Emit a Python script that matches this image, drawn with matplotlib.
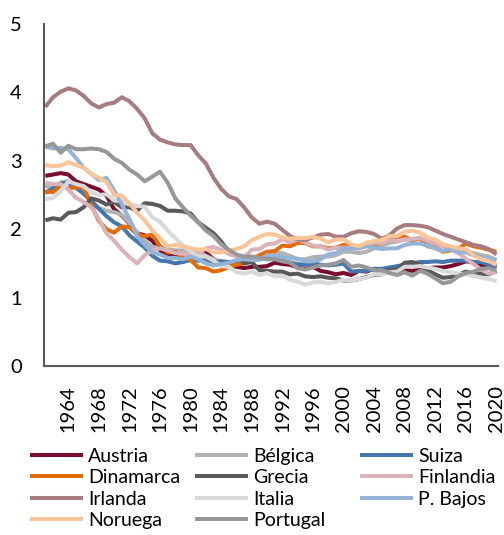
import matplotlib
matplotlib.use('Agg')
import matplotlib.pyplot as plt

plt.rcParams['font.family'] = ['Lato', 'DejaVu Sans']

# años 1961-2020
years = list(range(1961, 2021))

austria = [2.78, 2.80, 2.82, 2.80, 2.70, 2.66, 2.62, 2.58, 2.49, 2.29, 2.20, 2.08, 1.94, 1.91,
           1.83, 1.69, 1.63, 1.60, 1.60, 1.65, 1.67, 1.66, 1.56, 1.52, 1.47, 1.45, 1.43, 1.45,
           1.45, 1.46, 1.51, 1.49, 1.48, 1.44, 1.42, 1.45, 1.39, 1.37, 1.34, 1.36, 1.33, 1.39,
           1.38, 1.42, 1.41, 1.41, 1.38, 1.41, 1.39, 1.44, 1.43, 1.44, 1.44, 1.46, 1.49, 1.53,
           1.52, 1.47, 1.46, 1.44]
belgica = [2.64, 2.59, 2.68, 2.71, 2.61, 2.52, 2.41, 2.31, 2.27, 2.25, 2.21, 2.09, 1.95, 1.83,
           1.74, 1.73, 1.71, 1.69, 1.69, 1.68, 1.67, 1.61, 1.56, 1.53, 1.51, 1.54, 1.54, 1.57,
           1.58, 1.62, 1.66, 1.65, 1.61, 1.56, 1.56, 1.59, 1.60, 1.60, 1.62, 1.67, 1.67, 1.65,
           1.67, 1.72, 1.76, 1.80, 1.82, 1.85, 1.84, 1.86, 1.81, 1.79, 1.75, 1.74, 1.70, 1.68,
           1.65, 1.62, 1.60, 1.55]
suiza = [2.53, 2.60, 2.67, 2.68, 2.61, 2.52, 2.41, 2.30, 2.19, 2.10, 2.04, 1.91, 1.82, 1.73,
         1.61, 1.54, 1.53, 1.50, 1.52, 1.55, 1.54, 1.56, 1.51, 1.53, 1.52, 1.53, 1.52, 1.57,
         1.56, 1.59, 1.60, 1.58, 1.51, 1.49, 1.48, 1.50, 1.48, 1.47, 1.48, 1.50, 1.38, 1.39,
         1.39, 1.42, 1.42, 1.44, 1.46, 1.48, 1.50, 1.52, 1.52, 1.53, 1.52, 1.54, 1.54, 1.54,
         1.52, 1.52, 1.48, 1.46]
dinamarca = [2.55, 2.54, 2.64, 2.60, 2.61, 2.62, 2.35, 2.12, 2.00, 1.95, 2.04, 2.03, 1.92, 1.90,
             1.92, 1.75, 1.66, 1.67, 1.60, 1.55, 1.44, 1.43, 1.38, 1.40, 1.45, 1.48, 1.50, 1.56,
             1.62, 1.67, 1.68, 1.76, 1.75, 1.80, 1.80, 1.75, 1.75, 1.72, 1.73, 1.77, 1.74, 1.72,
             1.76, 1.78, 1.80, 1.85, 1.84, 1.89, 1.84, 1.87, 1.75, 1.73, 1.67, 1.69, 1.71, 1.79,
             1.75, 1.73, 1.70, 1.67]
grecia = [2.13, 2.16, 2.14, 2.24, 2.25, 2.32, 2.45, 2.42, 2.36, 2.40, 2.32, 2.32, 2.27, 2.38,
          2.37, 2.34, 2.27, 2.27, 2.26, 2.23, 2.10, 2.02, 1.94, 1.82, 1.67, 1.61, 1.50, 1.52,
          1.40, 1.39, 1.38, 1.38, 1.34, 1.35, 1.31, 1.30, 1.31, 1.29, 1.28, 1.25, 1.25, 1.27,
          1.30, 1.33, 1.34, 1.40, 1.41, 1.51, 1.52, 1.48, 1.40, 1.34, 1.29, 1.30, 1.33, 1.38,
          1.35, 1.35, 1.34, 1.39]
finlandia = [2.68, 2.66, 2.66, 2.58, 2.46, 2.40, 2.32, 2.15, 1.94, 1.83, 1.70, 1.59, 1.50, 1.62,
             1.69, 1.72, 1.69, 1.65, 1.64, 1.63, 1.65, 1.72, 1.74, 1.70, 1.64, 1.60, 1.59, 1.70,
             1.71, 1.78, 1.79, 1.85, 1.81, 1.85, 1.81, 1.76, 1.75, 1.70, 1.73, 1.73, 1.73, 1.72,
             1.76, 1.80, 1.80, 1.84, 1.83, 1.85, 1.86, 1.87, 1.83, 1.80, 1.75, 1.71, 1.65, 1.57,
             1.49, 1.41, 1.35, 1.37]
irlanda = [3.79, 3.93, 4.01, 4.06, 4.03, 3.95, 3.84, 3.78, 3.83, 3.85, 3.93, 3.87, 3.76, 3.62,
           3.40, 3.31, 3.27, 3.24, 3.23, 3.23, 3.08, 2.96, 2.75, 2.59, 2.48, 2.44, 2.32, 2.17,
           2.08, 2.11, 2.08, 1.99, 1.90, 1.85, 1.84, 1.88, 1.92, 1.93, 1.89, 1.89, 1.94, 1.97,
           1.96, 1.93, 1.86, 1.91, 2.01, 2.06, 2.06, 2.05, 2.03, 1.98, 1.93, 1.89, 1.85, 1.81,
           1.77, 1.75, 1.71, 1.63]
italia = [2.44, 2.46, 2.55, 2.70, 2.66, 2.63, 2.54, 2.50, 2.51, 2.42, 2.41, 2.36, 2.34, 2.33,
          2.17, 2.11, 1.98, 1.87, 1.76, 1.68, 1.60, 1.60, 1.54, 1.46, 1.45, 1.37, 1.35, 1.38,
          1.33, 1.36, 1.31, 1.32, 1.26, 1.23, 1.19, 1.22, 1.23, 1.21, 1.23, 1.26, 1.25, 1.27,
          1.29, 1.34, 1.34, 1.37, 1.38, 1.45, 1.45, 1.46, 1.44, 1.42, 1.39, 1.37, 1.35, 1.34,
          1.32, 1.29, 1.27, 1.24]
p_bajos = [3.21, 3.18, 3.19, 3.17, 3.04, 2.90, 2.81, 2.72, 2.75, 2.57, 2.36, 2.15, 1.90, 1.77,
           1.66, 1.63, 1.58, 1.58, 1.56, 1.60, 1.56, 1.50, 1.47, 1.49, 1.51, 1.55, 1.56, 1.55,
           1.55, 1.62, 1.61, 1.59, 1.57, 1.57, 1.53, 1.53, 1.56, 1.63, 1.65, 1.72, 1.71, 1.73,
           1.75, 1.73, 1.71, 1.72, 1.72, 1.77, 1.79, 1.79, 1.76, 1.72, 1.68, 1.71, 1.66, 1.66,
           1.62, 1.59, 1.57, 1.55]
noruega = [2.94, 2.92, 2.93, 2.98, 2.94, 2.90, 2.81, 2.75, 2.69, 2.50, 2.49, 2.38, 2.24, 2.13,
           1.98, 1.87, 1.75, 1.77, 1.75, 1.72, 1.70, 1.71, 1.66, 1.66, 1.68, 1.71, 1.75, 1.84,
           1.89, 1.93, 1.92, 1.88, 1.86, 1.87, 1.87, 1.89, 1.86, 1.81, 1.85, 1.85, 1.78, 1.75,
           1.80, 1.83, 1.84, 1.90, 1.90, 1.96, 1.98, 1.95, 1.88, 1.85, 1.78, 1.75, 1.72, 1.71,
           1.62, 1.56, 1.53, 1.48]
portugal = [3.21, 3.25, 3.12, 3.22, 3.17, 3.17, 3.18, 3.17, 3.13, 3.03, 2.97, 2.87, 2.80, 2.70,
            2.77, 2.84, 2.68, 2.45, 2.32, 2.20, 2.10, 1.98, 1.90, 1.78, 1.70, 1.63, 1.60, 1.60,
            1.58, 1.56, 1.56, 1.53, 1.51, 1.43, 1.41, 1.44, 1.47, 1.48, 1.50, 1.55, 1.45, 1.47,
            1.44, 1.40, 1.40, 1.36, 1.33, 1.37, 1.32, 1.39, 1.35, 1.28, 1.21, 1.23, 1.31, 1.36,
            1.38, 1.42, 1.43, 1.40]

names = ['Austria', 'Bélgica', 'Suiza', 'Dinamarca', 'Grecia', 'Finlandia',
         'Irlanda', 'Italia', 'P. Bajos', 'Noruega', 'Portugal']
series = [austria, belgica, suiza, dinamarca, grecia, finlandia,
          irlanda, italia, p_bajos, noruega, portugal]
colors = ['#7A0C2E', '#B2B2B2', '#4676AE', '#E36C0A', '#595959', '#D9B3B9',
          '#A77C80', '#D9D9D9', '#95B3D7', '#FAC499', '#979797']

fig = plt.figure(figsize=(5.04, 5.35), dpi=100)
ax = fig.add_axes([0.087, 0.316, 0.901, 0.639])

lines = {}
for name, vals, c in zip(names, series, colors):
    ln, = ax.plot(years, vals, color=c, lw=2.9, solid_capstyle='butt', label=name)
    lines[name] = ln

ax.set_xlim(1960.8, 2020.2)
ax.set_ylim(0, 5)
ax.set_yticks([0, 1, 2, 3, 4, 5])
ax.set_xticks(list(range(1964, 2021, 4)))
ax.tick_params(axis='both', length=0, labelsize=14.5)
ax.tick_params(axis='x', pad=14)
ax.tick_params(axis='y', pad=16)
for lab in ax.get_xticklabels():
    lab.set_rotation(90)

for s in ['top', 'right']:
    ax.spines[s].set_visible(False)
for s in ['left', 'bottom']:
    ax.spines[s].set_color('#595959')
    ax.spines[s].set_linewidth(1.5)

# leyenda: una columna por llamada para fijar la posición de cada una
cols = [['Austria', 'Dinamarca', 'Irlanda', 'Noruega'],
        ['Bélgica', 'Grecia', 'Italia', 'Portugal'],
        ['Suiza', 'Finlandia', 'P. Bajos']]
x_pos = [30, 195, 360]
for col, xp in zip(cols, x_pos):
    fig.legend([lines[n] for n in col], col, loc='upper left',
               bbox_to_anchor=(xp / 504, 1 - 448 / 535), frameon=False, fontsize=14,
               handlelength=2.75, handletextpad=0.25, labelspacing=0.22,
               borderaxespad=0, borderpad=0)

fig.savefig('out.png', dpi=100)
